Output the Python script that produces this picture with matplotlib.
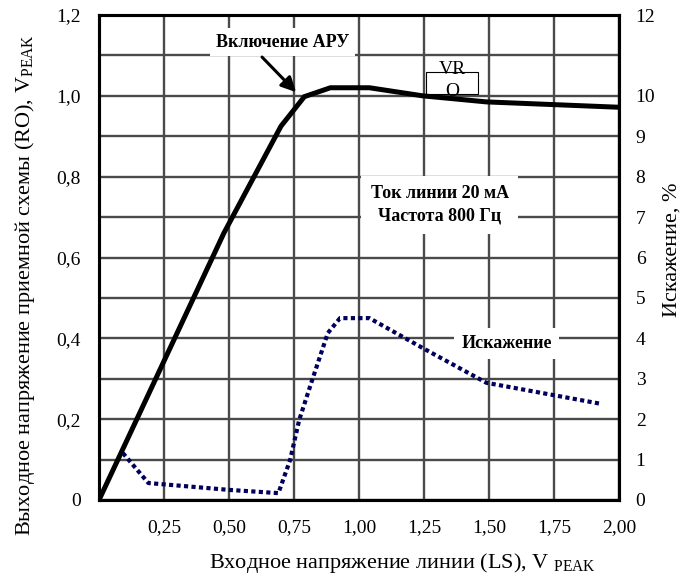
import matplotlib
matplotlib.use("Agg")
import matplotlib.pyplot as plt
from matplotlib.patches import Rectangle
import numpy as np

plt.rcParams['font.family'] = ['Liberation Serif', 'DejaVu Serif']
plt.rcParams['mathtext.fontset'] = 'custom'
plt.rcParams['mathtext.rm'] = 'Liberation Serif'
plt.rcParams['mathtext.it'] = 'Liberation Serif:italic'
plt.rcParams['mathtext.bf'] = 'Liberation Serif:bold'

# Data
ro_x = [0.0, 0.48, 0.70, 0.79, 0.89, 1.04, 1.245, 1.49, 1.99]
ro_y = [0.0, 0.66, 0.925, 0.998, 1.02, 1.02, 1.0, 0.985, 0.972]

dist_x = [0.092, 0.19, 0.50, 0.69, 0.735, 0.77, 0.82, 0.88, 0.927, 1.04, 1.245, 1.49, 1.93]
dist_y = [1.16, 0.42, 0.25, 0.17, 0.99, 1.98, 2.97, 4.13, 4.5, 4.5, 3.76, 2.9, 2.38]

x_ticks = [0.25, 0.50, 0.75, 1.00, 1.25, 1.50, 1.75, 2.00]
x_labels = ['0,25', '0,50', '0,75', '1,00', '1,25', '1,50', '1,75', '2,00']
y_ticks = [0.0, 0.1, 0.2, 0.3, 0.4, 0.5, 0.6, 0.7, 0.8, 0.9, 1.0, 1.1, 1.2]
y_labels = ['0', '', '0,2', '', '0,4', '', '0,6', '', '0,8', '', '1,0', '', '1,2']
y2_ticks = [0, 1, 2, 3, 4, 5, 6, 7, 8, 9, 10, 11, 12]
y2_labels = ['0', '1', '2', '3', '4', '5', '6', '7', '8', '9', '10', '', '12']

fig = plt.figure(figsize=(6.8, 5.84), dpi=100)
ax = fig.add_axes([99/680, 1-500/584, 520/680, 485/584])
ax.set_xlim(0, 2.0)
ax.set_ylim(0, 1.2)
ax.set_xticks([0.0] + x_ticks)
ax.set_xticklabels([''] + x_labels, fontsize=14)
ax.set_yticks(y_ticks)
ax.set_yticklabels(y_labels, fontsize=14)
ax.tick_params(axis='both', length=0)
ax.tick_params(axis='y', pad=13)
ax.tick_params(axis='x', pad=14)
ax.grid(True, color='#4a4a4a', linewidth=1.7)
for s in ax.spines.values():
    s.set_linewidth(2.2)
    s.set_color('black')

ax.plot(ro_x, ro_y, color='black', linewidth=3.6, solid_joinstyle='miter', zorder=4)

ax2 = ax.twinx()
ax2.set_ylim(0, 12)
ax2.set_yticks(y2_ticks)
ax2.set_yticklabels(y2_labels, fontsize=14)
ax2.tick_params(axis='y', length=0, pad=12)
for s in ax2.spines.values():
    s.set_linewidth(2.2)
    s.set_color('black')
ax2.plot(dist_x, dist_y, color='#00005c', linewidth=3.0,
         linestyle=(0, (1, 0.8)), dash_capstyle='butt', zorder=4)

box = dict(facecolor='white', edgecolor='none', pad=4)
ax.text(0.705, 1.133, 'Включение АРУ', fontsize=13, fontweight='bold',
        ha='center', va='center', bbox=box, zorder=3)
ax.annotate('', xy=(0.758, 1.009), xytext=(0.627, 1.096),
            arrowprops=dict(arrowstyle='-|>', lw=2.2, color='black',
                            mutation_scale=22, shrinkA=0, shrinkB=0),
            zorder=5)
ax.text(1.31, 0.73, 'Ток линии 20 мА\nЧастота 800 Гц', fontsize=13,
        fontweight='bold', ha='center', va='center', linespacing=1.4,
        bbox=dict(facecolor='white', edgecolor='none', pad=7), zorder=3)
ax.text(1.567, 0.388, 'Искажение', fontsize=13, fontweight='bold',
        ha='center', va='center',
        bbox=dict(facecolor='white', edgecolor='none', pad=5), zorder=3)

ax.add_patch(Rectangle((1.258, 1.005), 0.2, 0.054, facecolor='white',
                       edgecolor='black', linewidth=0.8, zorder=3))
ax.text(1.358, 1.066, 'VR', fontsize=14, ha='center', va='center', zorder=3.5)
ax.text(1.358, 1.010, 'O', fontsize=14, ha='center', va='center', zorder=3.5)

fig.text(402/680, 1-563/584, 'Входное напряжение линии (LS), V $_{\\mathregular{PEAK}}$',
         fontsize=16, ha='center', va='center')
fig.text(25/680, 1-285/584, 'Выходное напряжение приемной схемы (RO), V$_{\\mathregular{PEAK}}$',
         fontsize=16, ha='center', va='center', rotation=90)
fig.text(672/680, 1-250/584, 'Искажение, %', fontsize=16, ha='center',
         va='center', rotation=90)

fig.savefig('out.png', dpi=100)
